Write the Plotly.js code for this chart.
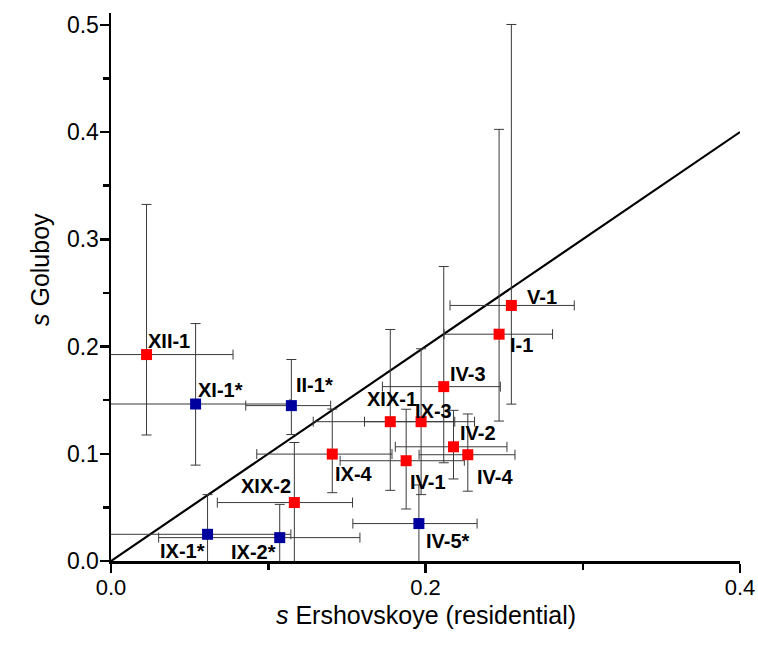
<!DOCTYPE html>
<html>
<head>
<meta charset="utf-8">
<script src="https://cdn.plot.ly/plotly-3.0.1.min.js"></script>
<style>html,body{margin:0;padding:0;background:#fff;}#chart{width:758px;height:649px;}</style>
</head>
<body>
<div id="chart"></div>
<script>
// ---- data ----
const redNames  = ["XII-1","XIX-1","IX-3","IV-3","V-1","I-1","IX-4","IV-1","IV-2","IV-4","XIX-2"];
const redX      = [0.0226,0.1776,0.1972,0.2116,0.2546,0.2468,0.1407,0.1877,0.2178,0.2269,0.1166];
const redY      = [0.1925,0.1299,0.1299,0.1626,0.2383,0.2115,0.0997,0.0935,0.1065,0.0991,0.0545];
const redXPlus  = [0.055,0.041,0.034,0.036,0.040,0.034,0.038,0.037,0.034,0.030,0.037];
const redXMinus = [0.055,0.049,0.036,0.039,0.039,0.035,0.048,0.042,0.037,0.031,0.049];
const redYPlus  = [0.140,0.086,0.068,0.112,0.262,0.191,0.042,0.048,0.034,0.038,0.056];
const redYMinus = [0.075,0.064,0.068,0.071,0.092,0.081,0.036,0.045,0.030,0.034,0.056];

const blueNames  = ["XI-1*","II-1*","IX-1*","IX-2*","IV-5*"];
const blueX      = [0.0538,0.1147,0.0614,0.1073,0.1958];
const blueY      = [0.1464,0.1449,0.0249,0.0218,0.0349];
const blueXPlus  = [0.060,0.025,0.053,0.051,0.037];
const blueXMinus = [0.060,0.029,0.070,0.077,0.042];
const blueYPlus  = [0.075,0.043,0.037,0.031,0.036];
const blueYMinus = [0.057,0.027,0.037,0.031,0.036];

const lineX = [0, 0.4];
const lineY = [0, 0.4];

const xTickVals = [0, 0.2, 0.4];
const xTickText = ["0.0","0.2","0.4"];
const yTickVals = [0, 0.1, 0.2, 0.3, 0.4, 0.5];
const yTickText = ["0.0","0.1","0.2","0.3","0.4","0.5"];

const xTitle = "<i>s</i> Ershovskoye (residential)";
const yTitle = "<i>s</i> Goluboy";

// ---- label placement (pixel offsets, styles) ----
const redLabelDx = [0, 2, -7, 5, 15, 10, 2, 3, 6, 8, -2];
const redLabelDy = [14, 23, 11, 13, 8, -11, -20, -21, 14, -22, 17];
const redLabelAnchor = ["left","center","left","left","left","left","left","left","left","left","right"];
const blueLabelDx = [1, 4, -2, -3, 6];
const blueLabelDy = [14, 21, -17, -14, -17];
const blueLabelAnchor = ["left","left","right","right","left"];

const FONT = "Arial, 'Liberation Sans', sans-serif";
const errStyle = {color: "#3a3a3a", thickness: 1, width: 5};

function errBar(plus, minus){ return Object.assign({type:"data", symmetric:false, array:plus, arrayminus:minus, visible:true}, errStyle); }

const traces = [
  {x: lineX, y: lineY, mode: "lines", line: {color: "#000", width: 2.2}, hoverinfo: "skip", showlegend: false},
  {x: redX, y: redY, mode: "markers", type: "scatter", showlegend: false,
   marker: {symbol: "square", size: 11, color: "#ff0000", line: {width: 0}},
   error_x: errBar(redXPlus, redXMinus), error_y: errBar(redYPlus, redYMinus)},
  {x: blueX, y: blueY, mode: "markers", type: "scatter", showlegend: false,
   marker: {symbol: "square", size: 11, color: "#00009e", line: {width: 0}},
   error_x: errBar(blueXPlus, blueXMinus), error_y: errBar(blueYPlus, blueYMinus)}
];

const annotations = [];
function addLabels(names, xs, ys, dx, dy, anch){
  for (let i = 0; i < names.length; i++){
    annotations.push({x: xs[i], y: ys[i], xref: "x", yref: "y", text: "<b>" + names[i] + "</b>",
      showarrow: false, xanchor: anch[i], yanchor: "middle", xshift: dx[i], yshift: dy[i],
      font: {family: FONT, size: 20, color: "#000"}, borderpad: 0});
  }
}
addLabels(redNames, redX, redY, redLabelDx, redLabelDy, redLabelAnchor);
addLabels(blueNames, blueX, blueY, blueLabelDx, blueLabelDy, blueLabelAnchor);

// axis titles as annotations (placed where the reference puts them)
annotations.push({xref: "paper", yref: "paper", x: 0, y: 0.531, xshift: -71, textangle: -90,
  text: yTitle, showarrow: false, xanchor: "center", yanchor: "middle",
  font: {family: FONT, size: 25, color: "#000"}});
annotations.push({xref: "paper", yref: "paper", x: 0.5, y: 0, yshift: -54,
  text: xTitle, showarrow: false, xanchor: "center", yanchor: "middle", borderpad: 0,
  font: {family: FONT, size: 25, color: "#000"}});

const layout = {
  width: 758, height: 649,
  margin: {l: 111, r: 18, t: 13, b: 88},
  paper_bgcolor: "#fff", plot_bgcolor: "#fff",
  font: {family: FONT, color: "#000"},
  showlegend: false,
  xaxis: {
    range: [0, 0.4], showgrid: false, zeroline: false,
    showline: true, linecolor: "#000", linewidth: 2.5,
    ticks: "outside", ticklen: 9, tickwidth: 2.5, tickcolor: "#000",
    tickmode: "array", tickvals: xTickVals, ticktext: xTickText,
    tickfont: {family: FONT, size: 22, color: "#000"},
    ticklabelstandoff: -4,
    minor: {tickmode: "array", tickvals: [0.1, 0.3], ticks: "outside", ticklen: 6, tickwidth: 2.5, tickcolor: "#000"},
    fixedrange: true
  },
  yaxis: {
    range: [0, 0.511], showgrid: false, zeroline: false,
    showline: true, linecolor: "#000", linewidth: 2.5,
    ticks: "outside", ticklen: 9, tickwidth: 2.5, tickcolor: "#000",
    tickmode: "array", tickvals: yTickVals, ticktext: yTickText,
    tickfont: {family: FONT, size: 23, color: "#000"},
    ticklabelstandoff: -4,
    minor: {tickmode: "array", tickvals: [0.05, 0.15, 0.25, 0.35, 0.45], ticks: "outside", ticklen: 6, tickwidth: 2.5, tickcolor: "#000"},
    fixedrange: true
  },
  annotations: annotations
};

Plotly.newPlot("chart", traces, layout, {staticPlot: true, displayModeBar: false});
</script>
</body>
</html>
